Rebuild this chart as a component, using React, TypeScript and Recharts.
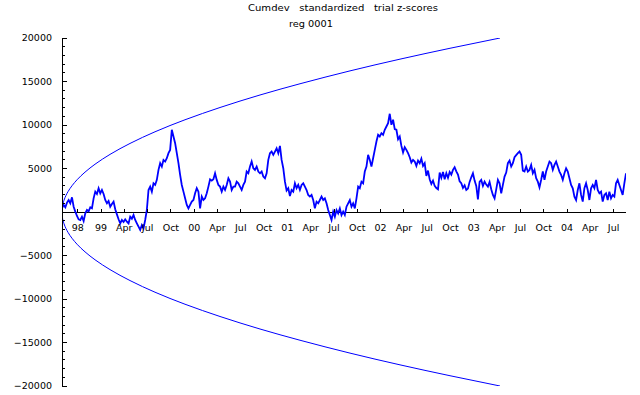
import React from 'react';
import { LineChart, Line, XAxis, YAxis, ReferenceLine } from 'recharts';

const W = 640;
const H = 395;
const MARGIN = { top: 38, right: 14, bottom: 4, left: 0 };
const Y_AXIS_W = 62;
const X_AXIS_H = 5;
const PLOT_H = H - MARGIN.top - MARGIN.bottom - X_AXIS_H;
const FONT = 'DejaVu Sans';
const BLUE = '#0000ff';

// x domain in decimal years
const X_MIN = 1998.5815;
const X_MAX = 2004.633;

// cumulative deviation series, sampled at a regular step starting Aug 1998
const SERIES_START = 1998.5815;
const SERIES_STEP = 0.017851;
const cumdev = [
  420, 810, 540, 1080, 1380, 1000, 1690, 610, 40, -460,
  -840, -920, -540, -1040, -150, 230, 80, 540, 420, 1570,
  2340, 2070, 2730, 2150, 2530, 2070, 1380, 1000, 1270, 610,
  920, 1190, 310, -270, -840, -1310, -920, -1150, -840, -1110,
  -1310, -540, -770, -350, -920, -1310, -1690, -2070, -1500, -1880,
  -920, 230, 2530, 2920, 2340, 3300, 3110, 3690, 4840, 5610,
  5220, 5990, 5800, 6180, 6760, 7140, 9450, 8680, 7910, 6760,
  5610, 4260, 3110, 2340, 1570, 810, 420, 810, 1190, 1380,
  2150, 2730, 2340, 420, 1770, 1380, 1570, 2150,
  2920, 3760, 3610, 3760, 4450, 3690, 3110, 2920, 2340, 2920, 2530, 3110,
  3880, 3490, 2530, 2920, 2920, 3490, 3300, 2920, 2530, 3110,
  3490, 4650, 4450, 5220, 5800, 5030, 4840, 5220, 4650, 4450,
  4650, 4070, 3880, 4450, 5990, 6760, 6950, 6570, 6950, 7330,
  6760, 7600, 5990, 5030, 3490, 2460, 2730, 1840, 2530, 2340,
  3300, 2730, 3110, 2530, 3110, 3300, 2920, 2530, 1960, 1770,
  1960, 1380, 420, 1190, 1000, 1380, 1770, 1380, 1570, 1000,
  230, -350, -920, 40, -540, 230, -150, 420, -350, 40,
  -350, 610, 1000, 1380,
  610, 1000, 420, 1570, 2920, 2730,
  3490, 3300, 4650, 5220, 6570, 5990, 5220, 6180, 7140, 8100,
  8870, 8680, 9060, 8870, 9450, 9830, 10210, 11290, 10020, 10600,
  9520, 9450, 8370, 8680, 7600, 6840, 7450, 7140, 6760, 6300,
  5680, 5990, 5800, 5300, 5910, 5610, 6140, 5300, 5610, 4150,
  4760, 3760, 3230, 3610, 3000, 2760, 2610, 4530, 3920, 4610,
  3760, 4450, 3920, 4610, 4300, 4840, 5150, 4680, 4300, 3530,
  3300, 2760, 3070, 2530, 2690, 3460, 3990, 4450, 3610, 3000,
  1460, 3460, 3690, 3000, 3490, 3150, 2920, 3460,
  2610, 1960, 1570, 2610, 3690, 3300, 2150, 3110, 4070, 4530, 5610, 5910,
  5220, 5610, 6300, 6530, 6760, 6950, 6570, 4760, 4650, 5220,
  4650, 4840, 5410, 4450, 4840, 3880, 3490, 2840, 3690, 4650,
  3690, 4650, 5220, 5800, 5610, 4840, 5410, 5800, 5220, 4650,
  4260, 3690, 4450, 5030, 4650, 3880, 3110, 2730, 1770, 1380,
  2530, 3300, 1960, 1190, 2730, 3300, 2530, 1380, 2730, 3110,
  2730, 3690, 2530, 2150, 2340, 1190, 1960, 2150, 1380, 2340,
  1570, 1960, 1770, 3300, 3690, 3110, 2530, 1960, 3300, 4450,
];

// envelope curves
const envelopeDates = [
  1998.5815, 1998.5869, 1998.5923, 1998.603, 1998.6245, 1998.6459, 1998.6888,
  1998.7425, 1998.8283, 1998.9356, 1999.0966, 1999.3112, 1999.5794, 1999.9013,
  2000.2768, 2000.706, 2001.1352, 2001.6717, 2002.2082, 2002.7446, 2003.2811,
];
const envelopeUpper = [
  0, 680, 960, 1350, 1910, 2340, 3020, 3700, 4580, 5490, 6620, 7880, 9220,
  10600, 12010, 13450, 14740, 16220, 17570, 18820, 20000,
];
const envelopeLower = [
  0, -680, -960, -1350, -1910, -2340, -3020, -3700, -4580, -5490, -6620, -7880,
  -9220, -10600, -12010, -13450, -14740, -16220, -17570, -18820, -20000,
];

const xTicks = [
  1998.75, 1999, 1999.25, 1999.5, 1999.75, 2000, 2000.25, 2000.5, 2000.75,
  2001, 2001.25, 2001.5, 2001.75, 2002, 2002.25, 2002.5, 2002.75, 2003,
  2003.25, 2003.5, 2003.75, 2004, 2004.25, 2004.5,
];
const xTickLabels = [
  '98', '99', 'Apr', 'Jul', 'Oct', '00', 'Apr', 'Jul', 'Oct', '01', 'Apr',
  'Jul', 'Oct', '02', 'Apr', 'Jul', 'Oct', '03', 'Apr', 'Jul', 'Oct', '04',
  'Apr', 'Jul',
];
const yMajorTicks = [-20000, -15000, -10000, -5000, 0, 5000, 10000, 15000, 20000];
const yMinorStep = 1000;
const yTicks: number[] = [];
for (let v = -20000; v <= 20000; v += yMinorStep) yTicks.push(v);

const cumdevRows = cumdev.map((v, i) => ({ t: SERIES_START + i * SERIES_STEP, v }));
const envRows = envelopeDates.map((t, i) => ({ t, up: envelopeUpper[i], lo: envelopeLower[i] }));

const fmtY = (v: number) => (v < 0 ? '\u2212' + String(-v) : String(v));

const XTick = (props: any) => {
  const { x, y, payload } = props;
  const zeroY = y - PLOT_H / 2;
  const idx = xTicks.findIndex((t) => Math.abs(t - payload.value) < 1e-6);
  const label = idx >= 0 ? xTickLabels[idx] : '';
  return (
    <g>
      <line x1={x} x2={x} y1={zeroY} y2={zeroY - 3} stroke="#000" shapeRendering="crispEdges" />
      <text x={x} y={zeroY + 18.5} textAnchor="middle" fontFamily={FONT} fontSize={9.5} fill="#000">
        {label}
      </text>
    </g>
  );
};

const YTick = (props: any) => {
  const { x, y, payload } = props;
  const v = payload.value as number;
  const major = yMajorTicks.indexOf(v) >= 0;
  return (
    <g>
      <line x1={x} x2={x + (major ? 5 : 3)} y1={y} y2={y} stroke="#000" shapeRendering="crispEdges" />
      {major && v !== 0 && (
        <text x={x - 10} y={y + 3.4} textAnchor="end" fontFamily={FONT} fontSize={9.5} fill="#000">
          {fmtY(v)}
        </text>
      )}
    </g>
  );
};

export default function App() {
  return (
    <div style={{ position: 'absolute', left: 0, top: 0, width: W, height: H, background: '#fff' }}>
      <LineChart width={W} height={H} margin={MARGIN}>
        <XAxis
          dataKey="t"
          type="number"
          domain={[X_MIN, X_MAX]}
          allowDataOverflow
          ticks={xTicks}
          interval={0}
          height={X_AXIS_H}
          tickSize={0}
          tickMargin={0}
          axisLine={false}
          tickLine={false}
          tick={(p: any) => <XTick {...p} />}
        />
        <YAxis
          type="number"
          domain={[-20000, 20000]}
          allowDataOverflow
          ticks={yTicks}
          interval={0}
          width={Y_AXIS_W}
          tickSize={0}
          tickMargin={0}
          tickLine={false}
          axisLine={{ stroke: '#000', shapeRendering: 'crispEdges' }}
          tick={(p: any) => <YTick {...p} />}
        />
        <ReferenceLine y={0} stroke="#000" shapeRendering="crispEdges" />
        <Line data={envRows} dataKey="up" type="monotone" stroke={BLUE} strokeWidth={1} dot={false} isAnimationActive={false} />
        <Line data={envRows} dataKey="lo" type="monotone" stroke={BLUE} strokeWidth={1} dot={false} isAnimationActive={false} />
        <Line data={cumdevRows} dataKey="v" type="linear" stroke={BLUE} strokeWidth={1.8} dot={false} isAnimationActive={false} />
      </LineChart>
      <svg width={W} height={40} style={{ position: 'absolute', left: 0, top: 0, pointerEvents: 'none' }}>
        <text x={248} y={11} textLength={190} lengthAdjust="spacingAndGlyphs" fontFamily={FONT} fontSize={9.5} fill="#000" style={{ whiteSpace: 'pre' }}>
          {'Cumdev   standardized   trial z-scores'}
        </text>
        <text x={289} y={27} textLength={44} lengthAdjust="spacingAndGlyphs" fontFamily={FONT} fontSize={9.5} fill="#000" style={{ whiteSpace: 'pre' }}>
          {'reg 0001'}
        </text>
      </svg>
    </div>
  );
}
